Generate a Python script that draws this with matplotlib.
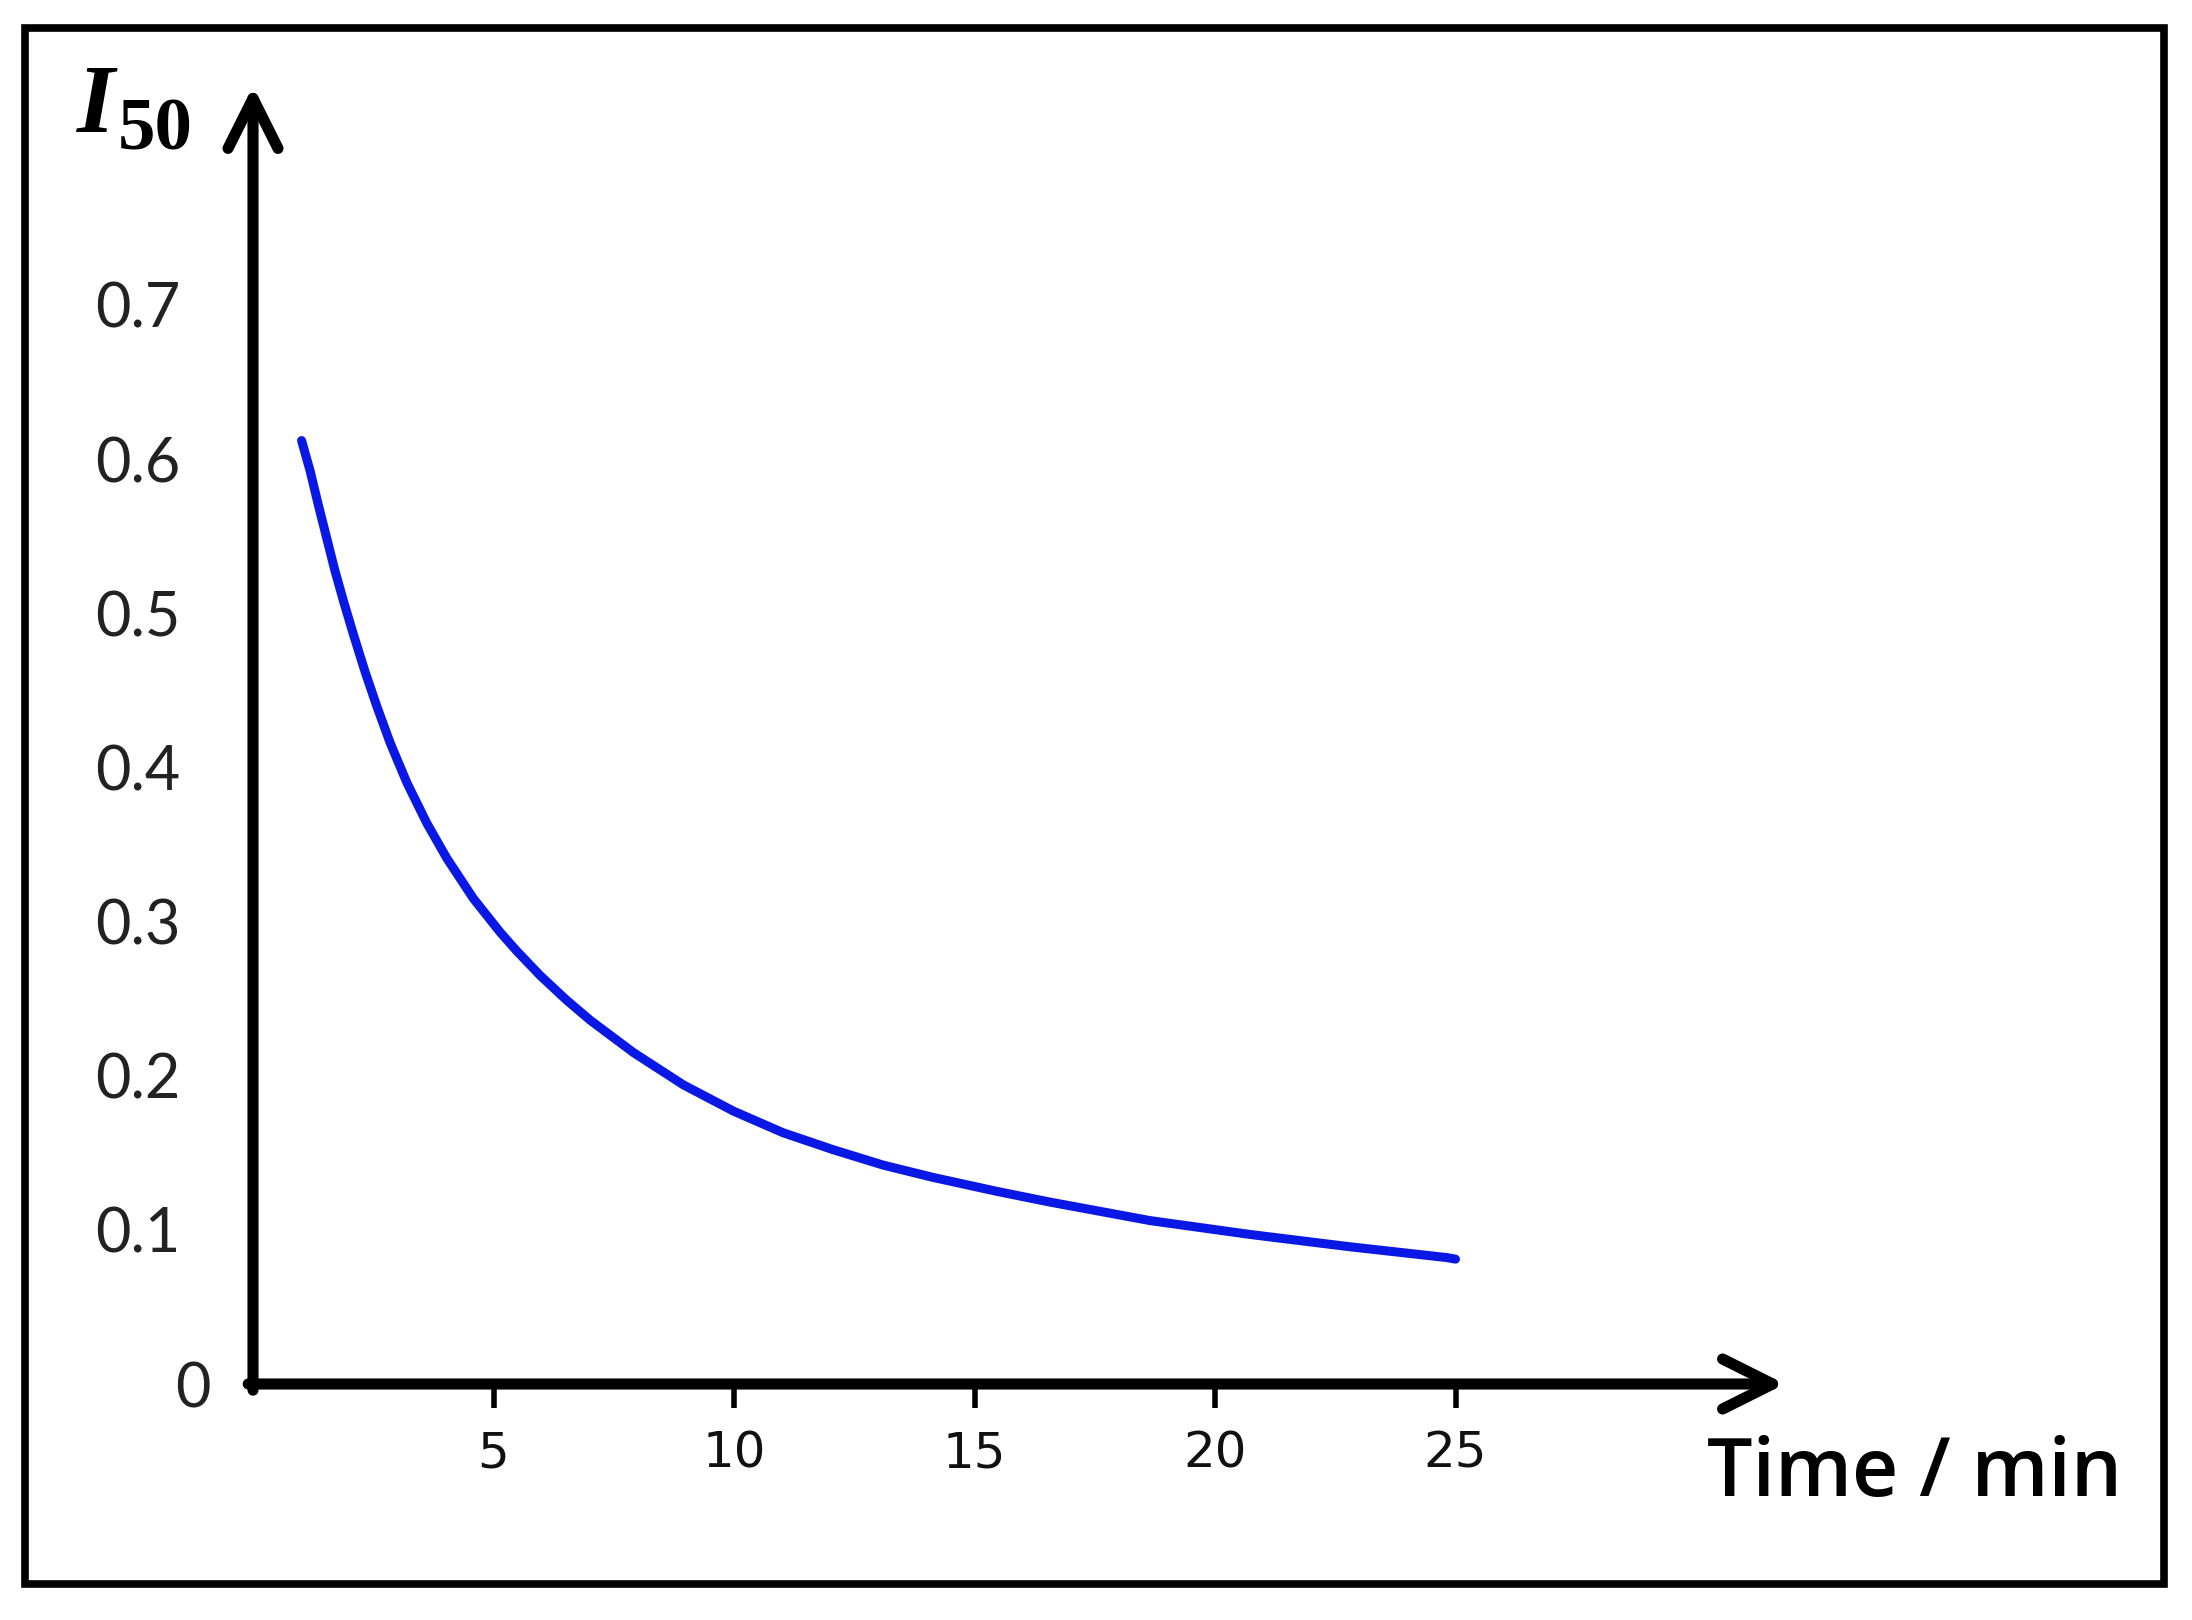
import numpy as np
import matplotlib.pyplot as plt
from matplotlib.patches import Rectangle
from matplotlib import font_manager
import matplotlib.transforms as mtransforms

# values
time_min = [1.01, 1.19, 1.36, 1.53, 1.70, 1.88, 2.09, 2.33, 2.57, 2.85, 3.20, 3.61,
            4.03, 4.58, 5.14, 5.48, 5.97, 6.52, 7.01, 7.91, 8.95, 9.99, 11.02, 12.06,
            13.10, 14.14, 15.46, 16.57, 18.65, 20.73, 22.81, 24.82, 25.0]
i50 = [0.612, 0.592, 0.570, 0.549, 0.528, 0.508, 0.486, 0.462, 0.440, 0.416, 0.390, 0.364,
       0.341, 0.315, 0.293, 0.281, 0.265, 0.249, 0.236, 0.215, 0.194, 0.177, 0.163, 0.152,
       0.142, 0.134, 0.125, 0.118, 0.106, 0.097, 0.089, 0.082, 0.081]
x_ticks = [5, 10, 15, 20, 25]
y_ticks = [0, 0.1, 0.2, 0.3, 0.4, 0.5, 0.6, 0.7]
y_ticklabels = ["0", "0.1", "0.2", "0.3", "0.4", "0.5", "0.6", "0.7"]

names = {f.name for f in font_manager.fontManager.ttflist}
narrow_font = "Liberation Sans Narrow" if "Liberation Sans Narrow" in names else "DejaVu Sans"

W, H = 2192, 1620
fig = plt.figure(figsize=(W / 100, H / 100), dpi=100)
fig.patch.set_facecolor("white")

xmax, ymax = 31.85, 0.842
ax = fig.add_axes([253 / W, 236 / H, 1532 / W, 1298 / H])
ax.set_xlim(0, xmax)
ax.set_ylim(0, ymax)
for s in ax.spines.values():
    s.set_visible(False)

ax.plot(time_min, i50, color="#0a18e6", linewidth=6.5, solid_capstyle="round",
        solid_joinstyle="round", clip_on=False)

# axes drawn as arrows
arrow_kw = dict(arrowstyle="->,head_length=0.36,head_width=0.18", lw=8, color="black",
                mutation_scale=100, shrinkA=0, shrinkB=0, capstyle="round", joinstyle="round")
ax.annotate("", xy=(xmax, 0), xytext=(-0.1, 0), arrowprops=arrow_kw, annotation_clip=False)
ax.annotate("", xy=(0, ymax), xytext=(0, -0.004), arrowprops=arrow_kw, annotation_clip=False)

ax.set_xticks(x_ticks)
ax.set_xticklabels([str(v) for v in x_ticks], fontsize=36, family=narrow_font, color="#111111")
ax.tick_params(axis="x", direction="out", length=17, width=4, pad=16, color="black")

ax.set_yticks(y_ticks)
ax.set_yticklabels(y_ticklabels, fontsize=44, family="Lato", color="#222222")
ax.tick_params(axis="y", length=0, pad=52)
# the "0" sits further right in the original
zero_lbl = ax.get_yticklabels()[0]
zero_lbl.set_transform(zero_lbl.get_transform() +
                       mtransforms.ScaledTranslation(30 / 100, 0, fig.dpi_scale_trans))

ax.set_xlabel("Time / min", fontsize=58, family="Open Sans", fontweight="semibold",
              ha="right", va="baseline")
ax.xaxis.set_label_coords(1.22, -0.0866)

# I50 label
fig.text(77 / W, 1 - 132 / H, "I", fontsize=70, family="Liberation Serif",
         fontweight="bold", fontstyle="italic", va="baseline")
fig.text(118 / W, 1 - 150 / H, "50", fontsize=54, family="Liberation Serif",
         fontweight="bold", va="baseline")

# outer frame
fig.patches.append(Rectangle((25 / W, 36 / H), 2139 / W, 1556 / H, transform=fig.transFigure,
                             fill=False, edgecolor="black", linewidth=5.5))

fig.savefig("out.png", dpi=100)
